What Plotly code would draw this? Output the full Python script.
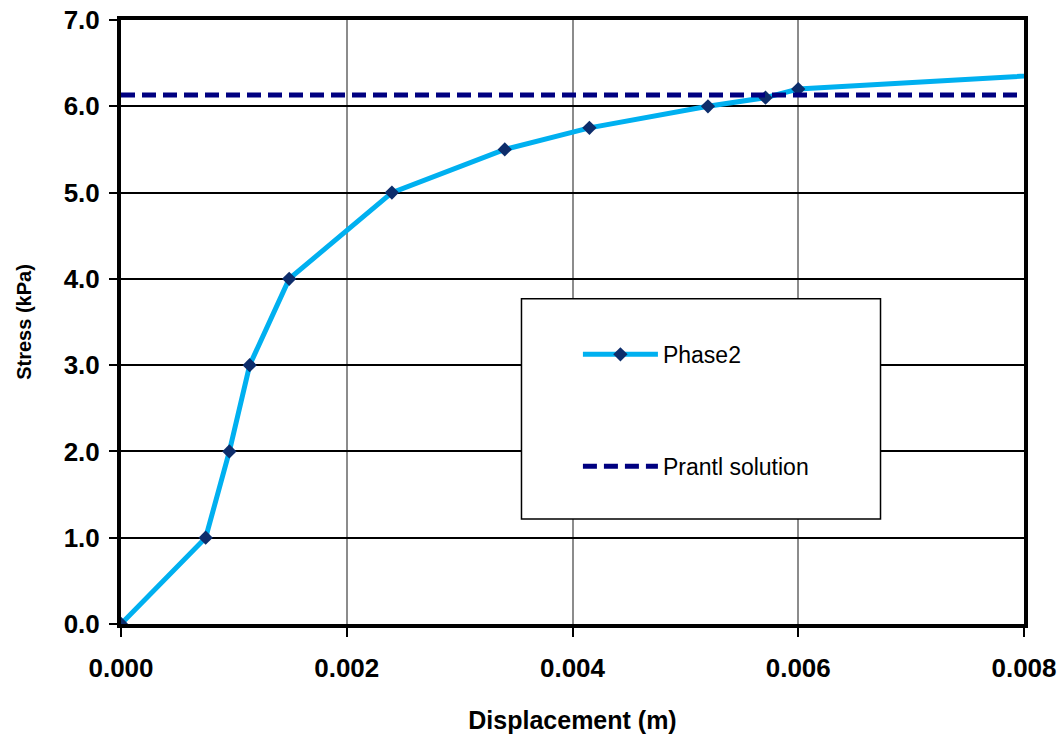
import plotly.graph_objects as go

# Data
disp = [0.0, 0.00075, 0.00096, 0.00114, 0.00149, 0.0024, 0.0034, 0.00415, 0.0052, 0.00571, 0.0060, 0.0100]
stress = [0.0, 1.0, 2.0, 3.0, 4.0, 5.0, 5.5, 5.75, 6.0, 6.1, 6.2, 6.5]
prantl_x = [0.0, 0.008]
prantl_y = [6.13, 6.13]
x_ticks = [0.0, 0.002, 0.004, 0.006, 0.008]
x_ticklabels = ["0.000", "0.002", "0.004", "0.006", "0.008"]
y_ticks = [0, 1, 2, 3, 4, 5, 6, 7]
y_ticklabels = ["0.0", "1.0", "2.0", "3.0", "4.0", "5.0", "6.0", "7.0"]

FONT = "Liberation Sans, Arial, sans-serif"

fig = go.Figure()
fig.add_trace(go.Scatter(
    x=disp, y=stress, name="Phase2", mode="lines+markers",
    line=dict(color="#00B0F0", width=5),
    marker=dict(symbol="diamond", size=11, color="#0D2D6B"),
    legendgroup="a",
))
fig.add_trace(go.Scatter(
    x=prantl_x, y=prantl_y, name="Prantl solution", mode="lines",
    line=dict(color="#000080", width=5, dash="14px,7px"),
    legendgroup="b",
))

fig.update_layout(
    width=1062, height=745,
    margin=dict(l=121, r=38, t=20, b=121),
    paper_bgcolor="white", plot_bgcolor="white",
    font=dict(family=FONT, color="black"),
    showlegend=True,
    legend=dict(
        x=0.506, y=0.482, xanchor="left", yanchor="top",
        bgcolor="rgba(0,0,0,0)", borderwidth=0,
        font=dict(family=FONT, size=23, color="black"),
        tracegroupgap=79, itemwidth=75,
    ),
    xaxis=dict(
        range=[0, 0.008], tickvals=x_ticks, ticktext=x_ticklabels,
        automargin=False,
        showgrid=True, gridcolor="#8C8C8C", gridwidth=2,
        showline=True, linecolor="black", linewidth=4, mirror=True,
        ticks="outside", ticklen=9, tickwidth=2, tickcolor="black",
        ticklabelstandoff=9,
        tickfont=dict(family=FONT, size=26, weight="bold"),
        title=dict(text="Displacement (m)", standoff=30,
                   font=dict(family=FONT, size=25, weight="bold")),
        zeroline=False,
    ),
    yaxis=dict(
        range=[0, 7], tickvals=y_ticks, ticktext=y_ticklabels,
        automargin=False,
        showgrid=True, gridcolor="black", gridwidth=2,
        showline=True, linecolor="black", linewidth=4, mirror=True,
        ticks="outside", ticklen=8, tickwidth=2, tickcolor="black",
        ticklabelstandoff=4,
        tickfont=dict(family=FONT, size=26, weight="bold"),
        title=dict(text="Stress (kPa)", standoff=28,
                   font=dict(family=FONT, size=20, weight="bold")),
        zeroline=False,
    ),
    shapes=[dict(
        type="rect", xref="paper", yref="paper",
        x0=0.4435, x1=0.8411, y0=0.174, y1=0.5384,
        line=dict(color="black", width=1.5), fillcolor="white", layer="above",
    )],
)

fig.write_html("out.html")
